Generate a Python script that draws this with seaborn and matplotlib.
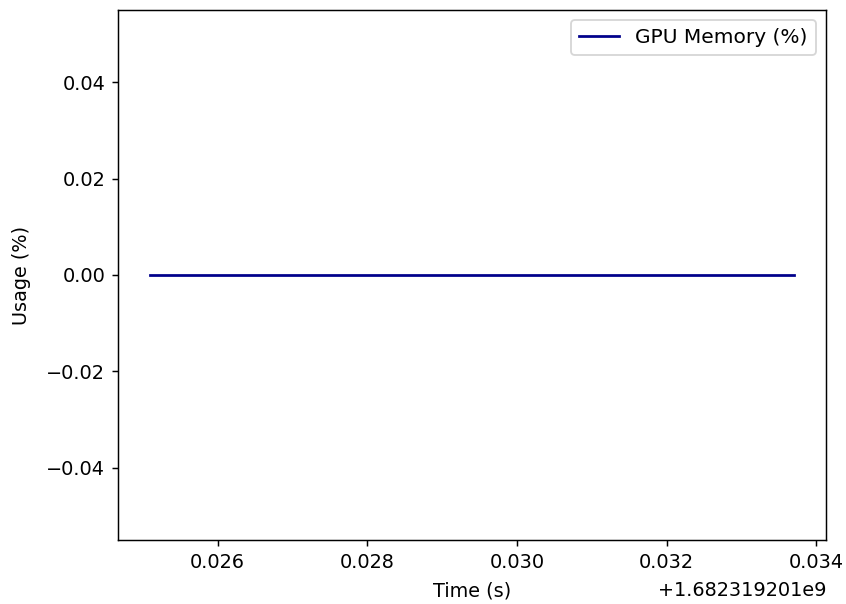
import matplotlib
matplotlib.use("Agg")
import matplotlib.pyplot as plt
import matplotlib.transforms as mtransforms
import seaborn as sns
import pandas as pd

# data
time_s = [1682319201.0251, 1682319201.0263, 1682319201.0275, 1682319201.0288,
          1682319201.0300, 1682319201.0313, 1682319201.0325, 1682319201.0337]
gpu_memory = [0, 0, 0, 0, 0, 0, 0, 0]
series_label = "GPU Memory (%)"

df = pd.DataFrame({"Time (s)": time_s, "Usage (%)": gpu_memory})

plt.rcParams["xtick.labelsize"] = 10.5
plt.rcParams["ytick.labelsize"] = 10.5
plt.rcParams["axes.labelsize"] = 10.5

dpi = 132
fig = plt.figure(figsize=(846 / dpi, 604 / dpi), dpi=dpi)
ax = fig.add_axes([118 / 846, 1 - 540 / 604, (826 - 118) / 846, (540 - 10) / 604])
sns.lineplot(data=df, x="Time (s)", y="Usage (%)", ax=ax, color="darkblue",
             label=series_label, linewidth=1.5)
ax.set_xlabel("Time (s)", labelpad=5.5)
ax.set_ylabel("Usage (%)", labelpad=8.5)
ax.legend(loc="upper right", fontsize=11)
ot = ax.xaxis.get_offset_text()
ot.set_fontsize(10.5)
ot.set_transform(ot.get_transform() + mtransforms.ScaledTranslation(0, -4 / dpi, fig.dpi_scale_trans))
fig.savefig("out.png", dpi=dpi)
